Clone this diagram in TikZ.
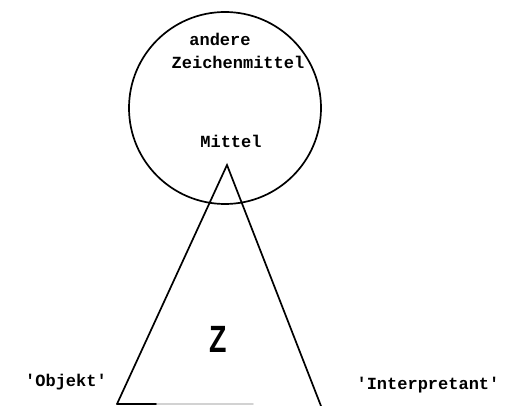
\documentclass[tikz,border=0pt]{standalone}
\usepackage{fontspec}
\newfontfamily\typew{Liberation Mono}
\newfontfamily\zfont{Liberation Sans}
\usetikzlibrary{positioning, calc}

\tikzset{
  typed/.style={font=\typew\bfseries\fontsize{17}{19}\selectfont, inner sep=0pt},
  edge/.style={line width=1.7pt, line cap=round}
}

\begin{document}
\begin{tikzpicture}[x=1pt, y=-1pt]
\useasboundingbox (0,0) rectangle (508,406);
% Kreis der Zeichenmittel
\draw[edge] (225,108) circle[radius=96];
\node[typed] (andere) at (220,39) {andere};
\node[typed] (zeichen) at (238,62) {Zeichenmittel};
\node[typed] (mittel) at (231,141) {Mittel};
% Dreieck
\coordinate (spitze) at (227,165);
\coordinate (links) at (117,404);
\coordinate (rechts) at (321,406);
\draw[edge] (links) -- (spitze) -- (rechts);
\draw[edge] (links) -- (157,404);
\draw[edge, gray!35] (157,404) -- (253,404);
\node[font=\zfont\bfseries\fontsize{38}{40}\selectfont, xscale=0.75, inner sep=0pt] (z) at (218,339) {Z};
% Beschriftung der Ecken
\node[typed] (objekt) at (66,382) {'Objekt'};
\node[typed] (interp) at (428,385) {'Interpretant'};
\end{tikzpicture}
\end{document}
